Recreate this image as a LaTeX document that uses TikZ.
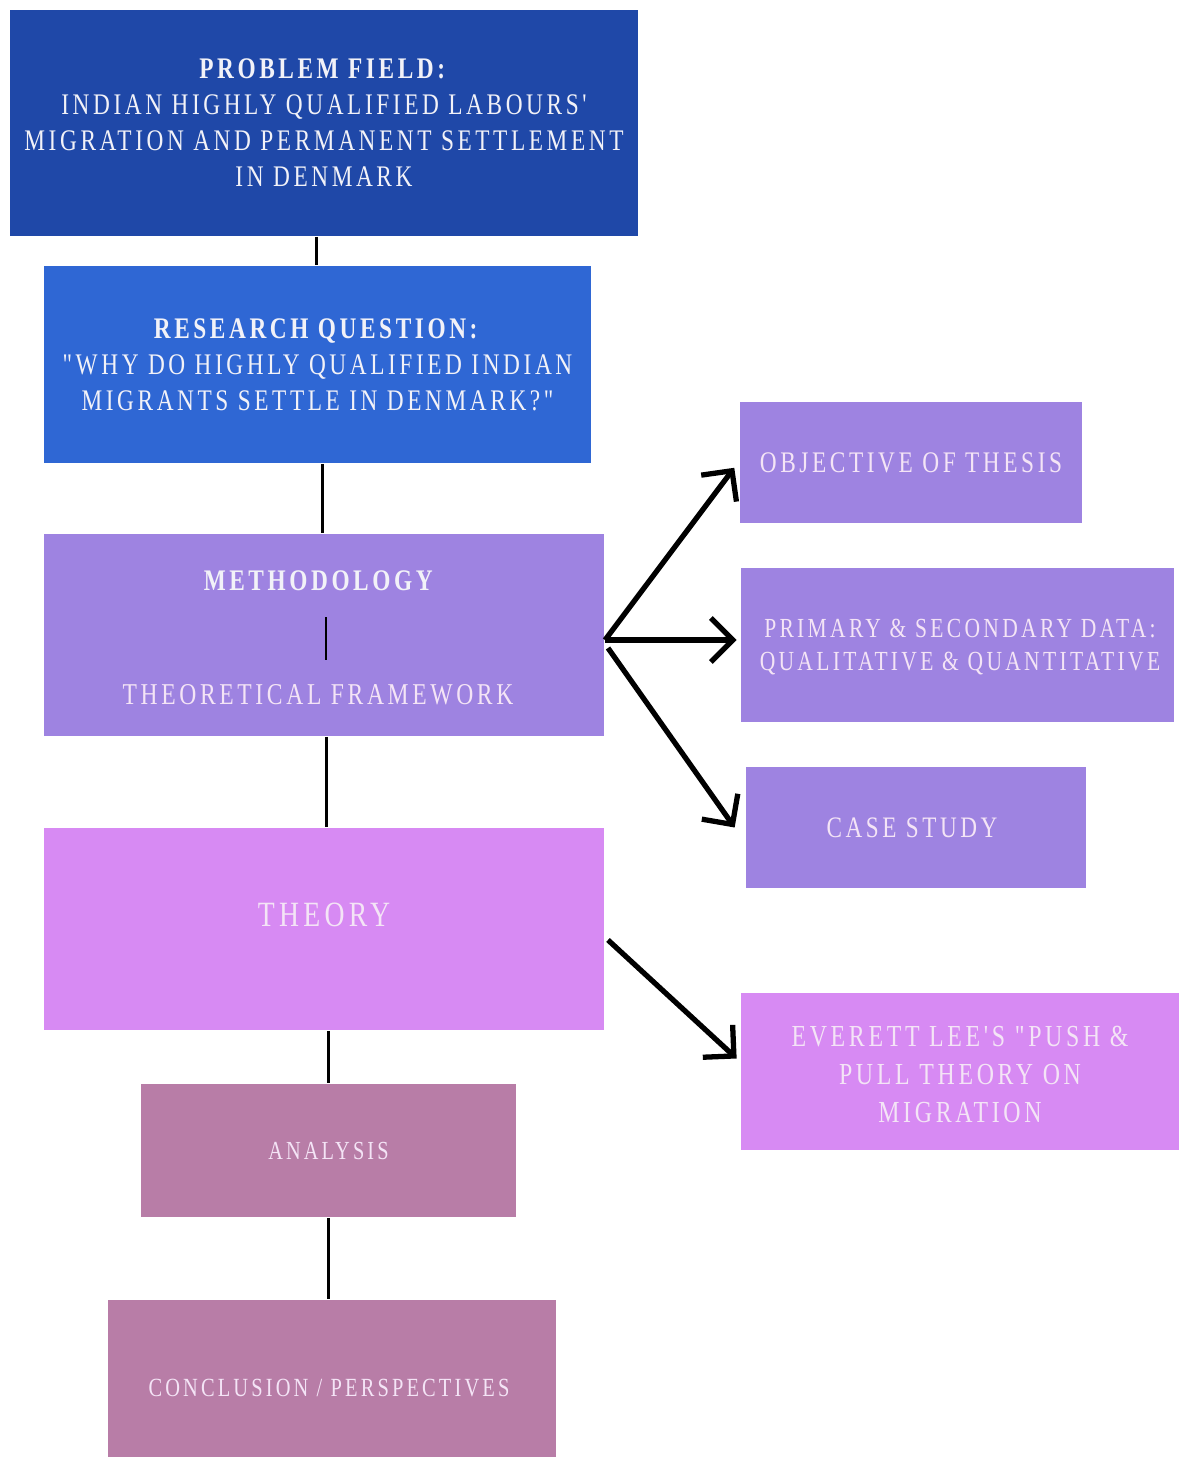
\documentclass[tikz,border=0pt]{standalone}
\usepackage{fontspec}
\setmainfont{Liberation Serif}[FakeStretch=0.78,LetterSpace=12,Ligatures=TeXOff]
\usetikzlibrary{arrows.meta}
\definecolor{cDark}{HTML}{1F48A8}
\definecolor{cBlue}{HTML}{2F67D4}
\definecolor{cLav}{HTML}{9E83E1}
\definecolor{cPink}{HTML}{D78AF3}
\definecolor{cMauve}{HTML}{B87DA7}
\definecolor{cTxtW}{HTML}{F2F2F8}
\definecolor{cTxtP}{HTML}{F4E4F6}
\newcommand{\fsz}[2]{\fontsize{#1}{#2}\selectfont}
\tikzset{
  box/.style={rectangle, inner sep=0pt, align=center, text=cTxtP},
  conn/.style={draw=black, line width=0.85pt},
  arr/.style={draw=black, line width=1.5pt, -{Straight Barb[length=2.2mm,width=4.4mm,line width=1.5pt]}},
}
\begin{document}
\begin{tikzpicture}[x=0.01cm,y=-0.01cm]
\useasboundingbox (0,0) rectangle (1179,1457);
\fill[white] (0,0) rectangle (1179,1457);
% left column
\node[box, fill=cDark, text=cTxtW, minimum width=6.28cm, minimum height=2.26cm, font={\fsz{8.5pt}{10.24pt}}] (prob) at (324,123)
  {\textbf{PROBLEM FIELD:}\\INDIAN HIGHLY QUALIFIED LABOURS'\\MIGRATION AND PERMANENT SETTLEMENT\\IN DENMARK};
\node[box, fill=cBlue, text=cTxtW, minimum width=5.47cm, minimum height=1.97cm, font={\fsz{8.5pt}{10.24pt}}] (rq) at (317.5,364.5)
  {\textbf{RESEARCH QUESTION:}\\"WHY DO HIGHLY QUALIFIED INDIAN\\MIGRANTS SETTLE IN DENMARK?"};
\node[box, fill=cLav, minimum width=5.60cm, minimum height=2.02cm] (meth) at (324,635) {};
\node[box, text=cTxtW, font={\fsz{8.5pt}{10pt}}] (methT) at (320,581) {\textbf{METHODOLOGY}};
\node[box, font={\fsz{8.6pt}{10pt}}] (methF) at (318,695) {THEORETICAL FRAMEWORK};
\coordinate (mA) at (326,617);
\coordinate (mB) at (326,660);
\node[box, fill=cPink, minimum width=5.60cm, minimum height=2.02cm] (theory) at (324,929) {};
\node[box, font={\fsz{10.1pt}{12pt}}] (theoryT) at (324,915) {THEORY};
\node[box, fill=cMauve, minimum width=3.75cm, minimum height=1.33cm, font={\fsz{7.4pt}{9pt}}] (ana) at (328.5,1150.5)
  {ANALYSIS};
\node[box, fill=cMauve, minimum width=4.48cm, minimum height=1.60cm] (conc) at (332,1380) {};
\node[box, font={\fsz{7.45pt}{9pt}}] (concT) at (329,1388) {CONCLUSION / PERSPECTIVES};
% right column
\node[box, fill=cLav, minimum width=3.42cm, minimum height=1.21cm, font={\fsz{8.5pt}{10pt}}] (obj) at (911,462.5)
  {OBJECTIVE OF THESIS};
\node[box, fill=cLav, minimum width=4.33cm, minimum height=1.54cm] (prim) at (957.5,645) {};
\node[box, font={\fsz{7.85pt}{9.4pt}}] (primT) at (960,647) {PRIMARY \& SECONDARY DATA:\\QUALITATIVE \& QUANTITATIVE};
\node[box, fill=cLav, minimum width=3.40cm, minimum height=1.21cm] (case) at (916,827.5) {};
\node[box, font={\fsz{8.45pt}{10pt}}] (caseT) at (912,828) {CASE STUDY};
\node[box, fill=cPink, minimum width=4.38cm, minimum height=1.57cm] (ever) at (960,1071.5) {};
\node[box, font={\fsz{8.7pt}{10.8pt}}] (everT) at (960,1074.5)
  {EVERETT LEE'S "PUSH \&\\PULL THEORY ON\\MIGRATION};
% connectors
\draw[conn] ([xshift=-2pt]prob.south) -- ([xshift=-2pt]prob.south |- rq.north);
\draw[conn] ([xshift=1.3pt]rq.south) -- ([xshift=1.3pt]rq.south |- meth.north);
\draw[conn] (mA) -- (mB);
\draw[conn] ([xshift=0.6pt]meth.south) -- ([xshift=0.6pt]meth.south |- theory.north);
\draw[conn] (theory.south -| ana.north) -- (ana.north);
\draw[conn] (ana.south) -- (ana.south |- conc.north);
% arrows
\coordinate (fork) at (605,640);
\coordinate (fork2) at (608,648);
\coordinate (tfork) at (608,940);
\coordinate (objTip) at ([xshift=-1.4pt,yshift=-1.5pt]obj.west);
\coordinate (primTip) at ([xshift=-1pt]prim.west |- fork);
\coordinate (caseTip) at ([xshift=-3pt]case.west);
\coordinate (everTip) at ([xshift=-1pt,yshift=3.7pt]ever.west);
\draw[arr] (fork) -- (objTip);
\draw[arr] (fork) -- (primTip);
\draw[arr] (fork2) -- (caseTip);
\draw[arr] (tfork) -- (everTip);
\end{tikzpicture}
\end{document}
